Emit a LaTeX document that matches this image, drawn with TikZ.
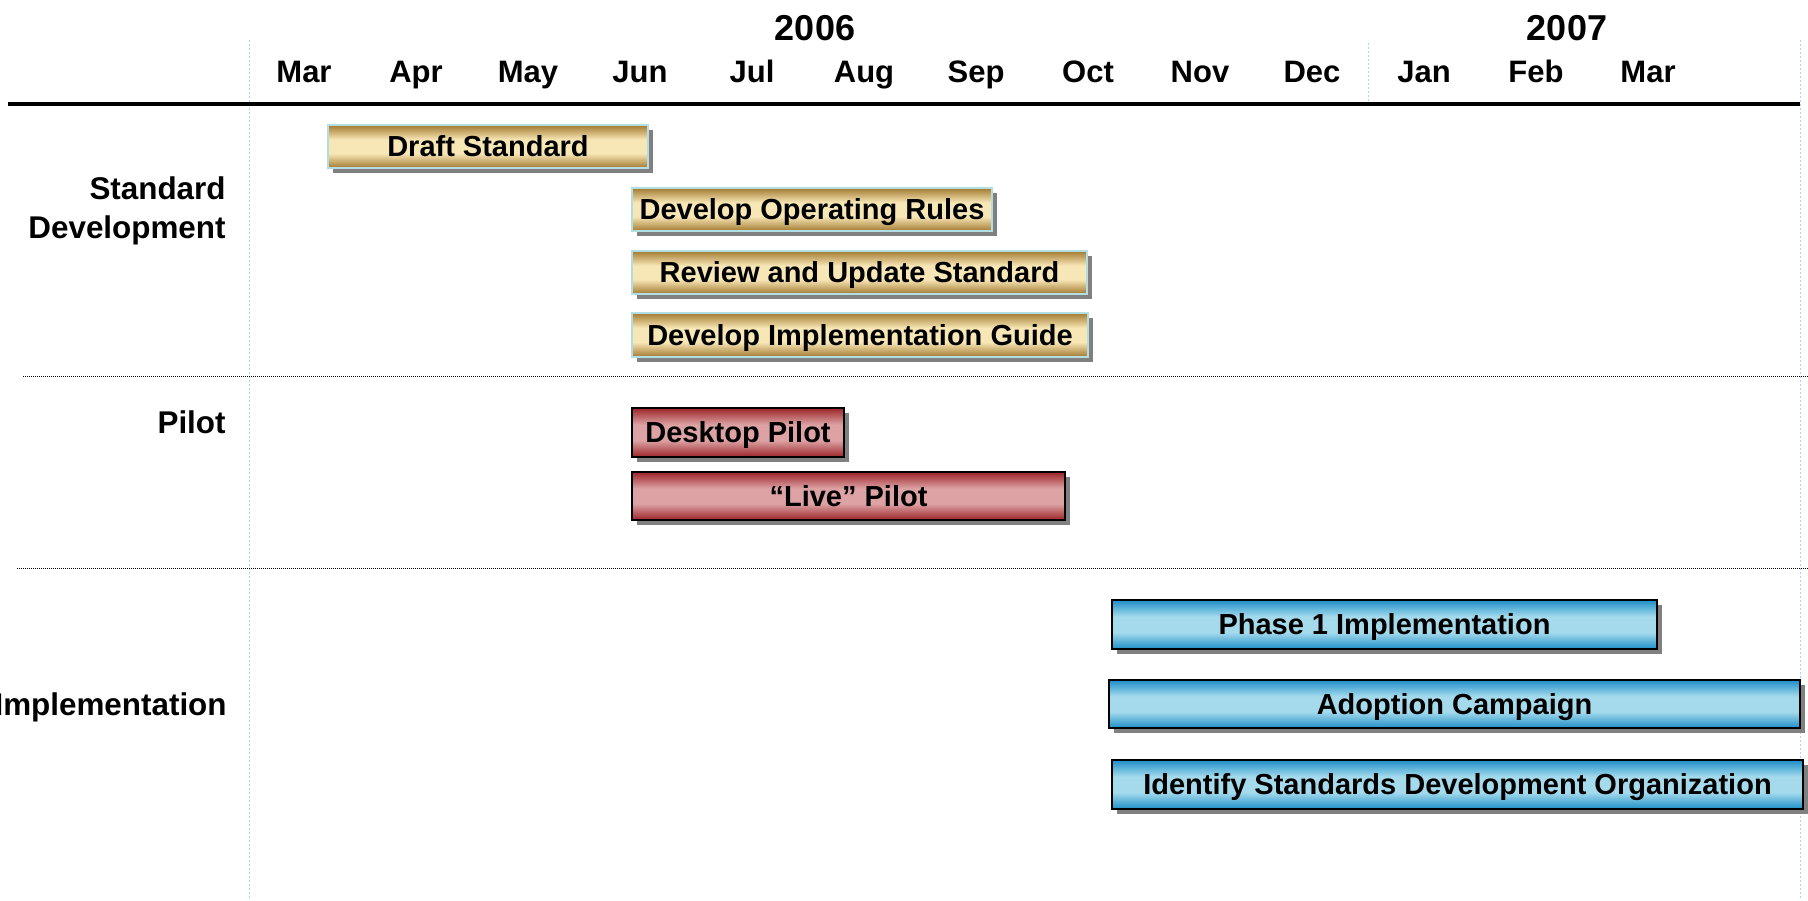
\documentclass[tikz,border=0pt]{standalone}
\usepackage{fontspec}
\setmainfont{Liberation Sans}
\usetikzlibrary{shadows}
\definecolor{golddark}{HTML}{A27A30}
\definecolor{goldlight}{HTML}{F8E7B6}
\definecolor{goldedge}{HTML}{B2DDE2}
\definecolor{reddark}{HTML}{9C2428}
\definecolor{redlight}{HTML}{DCA2A4}
\definecolor{bluedark}{HTML}{1E8FC8}
\definecolor{bluelight}{HTML}{A4DAEC}
\definecolor{guideline}{HTML}{A8D8E2}
\pgfdeclareverticalshading{goldsh}{100bp}{color(0bp)=(golddark); color(25bp)=(golddark); color(42bp)=(goldlight); color(58bp)=(goldlight); color(75bp)=(golddark); color(100bp)=(golddark)}
\pgfdeclareverticalshading{redsh}{100bp}{color(0bp)=(reddark); color(25bp)=(reddark); color(42bp)=(redlight); color(58bp)=(redlight); color(75bp)=(reddark); color(100bp)=(reddark)}
\pgfdeclareverticalshading{bluesh}{100bp}{color(0bp)=(bluedark); color(25bp)=(bluedark); color(42bp)=(bluelight); color(58bp)=(bluelight); color(75bp)=(bluedark); color(100bp)=(bluedark)}
% bar from (x1,y1) to (x2,y2) in pixel units
\newcommand\ganttbar[7]{%
  \node[#1, minimum width={(#5-#3)*0.5pt}, minimum height={(#6-#4)*0.5pt}]
    (#2) at ({(#3+#5)/2},{(#4+#6)/2}) {#7};}
\begin{document}
\begin{tikzpicture}[x=0.5pt,y=-0.5pt,
  bar/.style={inner sep=0pt, outer sep=0pt, anchor=center, text height=10.4pt, text depth=0pt,
    font=\fontsize{14.5}{17}\selectfont\bfseries,
    drop shadow={shadow xshift=2.5pt, shadow yshift=-2.5pt, fill=black!50, opacity=1}},
  goldbar/.style={bar, shading=goldsh, draw=goldedge, line width=1pt},
  redbar/.style={bar, shading=redsh, draw=black, line width=1.2pt},
  bluebar/.style={bar, shading=bluesh, draw=black, line width=1.2pt},
  month/.style={anchor=base, inner sep=0pt, font=\fontsize{15.5}{18}\selectfont\bfseries},
  year/.style={anchor=base, inner sep=0pt, font=\fontsize{18}{21}\selectfont\bfseries},
  rowlabel/.style={anchor=base east, inner sep=0pt, font=\fontsize{15.7}{18}\selectfont\bfseries},
  paleline/.style={guideline, line width=0.5pt, dash pattern=on 1pt off 1pt},
  sepline/.style={black, line width=0.5pt, dash pattern=on 0.5pt off 0.5pt},
  mainrule/.style={black, line width=2pt}
]
\useasboundingbox (0,0) rectangle (1808,900);

% guide lines
\draw[paleline] (249,40) -- (249,900);
\draw[paleline] (1368,43) -- (1368,104);
\draw[paleline] (1800,40) -- (1800,900);
\draw[mainrule] (8,104) -- (1800,104);
\draw[sepline] (23,376) -- (1808,376);
\draw[sepline] (17,568) -- (1808,568);

% years
\node[year] (y2006) at (815,40) {2006};
\node[year] (y2007) at (1567,40) {2007};

% months
\foreach \m [count=\i from 0] in {Mar,Apr,May,Jun,Jul,Aug,Sep,Oct,Nov,Dec,Jan,Feb,Mar}
  \node[month] (m\i) at ({304+112*\i},82) {\m};

% row labels
\node[rowlabel] (lstd) at (226,199) {Standard};
\node[rowlabel] (ldev) at (226,238) {Development};
\node[rowlabel] (lpilot) at (226,433) {Pilot};
\node[rowlabel] (limpl) at (227,715) {Implementation};

% bars
\ganttbar{goldbar}{draft}{328}{125}{648}{168}{Draft Standard}
\ganttbar{goldbar}{oprules}{632}{188}{992}{231}{Develop Operating Rules}
\ganttbar{goldbar}{review}{632}{251}{1087}{294}{Review and Update Standard}
\ganttbar{goldbar}{guide}{632}{313}{1088}{357}{Develop Implementation Guide}
\ganttbar{redbar}{desktop}{632}{408}{844}{457}{Desktop Pilot}
\ganttbar{redbar}{live}{632}{472}{1065}{520}{“Live” Pilot}
\ganttbar{bluebar}{phase1}{1112}{600}{1657}{649}{Phase 1 Implementation}
\ganttbar{bluebar}{adopt}{1109}{680}{1800}{728}{Adoption Campaign}
\ganttbar{bluebar}{sdo}{1112}{760}{1803}{809}{Identify Standards Development Organization}
\end{tikzpicture}
\end{document}
